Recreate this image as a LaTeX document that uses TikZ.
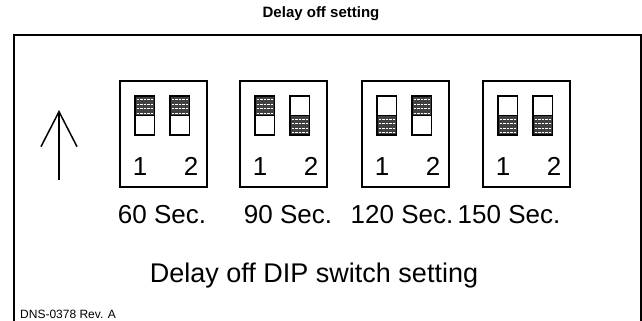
\documentclass[tikz,border=0pt]{standalone}
\usepackage{fontspec}
\setmainfont{Liberation Sans}
\usetikzlibrary{arrows.meta}
\tikzset{
  frame/.style={line width=2pt},
  dipbox/.style={line width=2pt},
  slider/.style={line width=1.5pt},
  onhalf/.style={fill=black!75},
  dashrow/.style={white, line width=0.9pt, dash pattern=on 2.5pt off 1pt},
  bigtxt/.style={font=\fontsize{26}{30}\selectfont, inner sep=0pt, anchor=base},
}
\begin{document}
\begin{tikzpicture}[x=1pt, y=-1pt]
\useasboundingbox (0,0) rectangle (642,321);
\node (title) at (321,14) {\fontsize{15}{17}\selectfont\bfseries Delay off setting};
\draw[frame] (14,321) -- (14,35) -- (641,35) -- (641,321);

% up arrow
\coordinate (arrbot) at (59,180);
\coordinate (arrtip) at (59,110);
\draw[line width=1.5pt, -{Straight Barb[length=35pt, width=36pt]}] (arrbot) -- (arrtip);

% the four DIP switches
\foreach \bx/\sa/\sb/\lab/\lx in {120/0/0/60/162, 240/0/1/90/288, 362/1/0/120/402, 483/1/1/150/509}
{
    \draw[dipbox] (\bx,81) rectangle ++(87,106);
    \foreach \dx/\s in {15/\sa, 50/\sb}
    {
        \pgfmathsetmacro\ty{96+\s*19.5}
        \fill[onhalf] (\bx+\dx,\ty) rectangle ++(19.5,19.5);
        \foreach \r in {3.5,8,12.5,17}
        {
            \draw[dashrow] (\bx+\dx+1.5,\ty+\r) -- ++(16.5,0);
        }
        \draw[slider] (\bx+\dx,96) rectangle ++(19.5,39);
        \draw[slider] (\bx+\dx,115.5) -- ++(19.5,0);
    }
    \node[bigtxt] (one\lab) at (\bx+20,175) {1};
    \node[bigtxt] (two\lab) at (\bx+71,175) {2};
    \node[bigtxt] (sec\lab) at (\lx,223) {\lab\ Sec.};
}

\node[bigtxt, font=\fontsize{27}{30}\selectfont] (caption) at (314,282) {Delay off DIP switch setting};
\node[anchor=base west, inner sep=0pt, font=\fontsize{12}{14}\selectfont] (docno) at (20,318) {DNS-0378 Rev. A};
\end{tikzpicture}
\end{document}
